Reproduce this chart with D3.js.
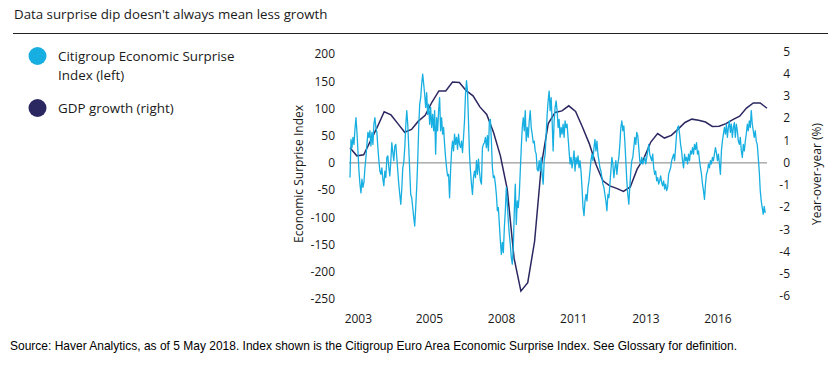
<!DOCTYPE html>
<html>
<head>
<meta charset="utf-8">
<script src="https://cdn.jsdelivr.net/npm/d3@7"></script>
<style>
  body { margin: 0; background: #fff; }
  svg { display: block; }
  text { font-family: "Open Sans", sans-serif; fill: #1a1a1a; }
</style>
</head>
<body>
<script>
// SVG dimensions
const width = 840, height = 376;

// Citigroup Economic Surprise Index (left axis), evenly spaced readings
const cesiStart = new Date(2002, 9, 1), cesiEnd = new Date(2018, 1, 5);
const cesiValues = [
  -27, 43, 28, 47, 34, 62, 83, 56, 22, -15,
  -39, -55, -30, -45, -36, -9, 10, 34, 56, 47,
  59, 31, 56, 34, 71, 83, 65, 56, 28, 4,
  -15, -21, -9, -30, -42, -15, -27, 10, 13, -9,
  -24, 4, 37, 19, 4, 31, 34, 10, -15, -39,
  -58, -76, -48, -9, 1, 28, 68, 96, 71, 28,
  -15, -58, -64, -82, -100, -116, -82, -45, 4, 65,
  108, 120, 145, 163, 145, 126, 102, 129, 89, 108,
  71, 102, 65, 89, 59, 96, 16, 83, 59, 96,
  120, 59, 83, 53, 65, 34, 10, -9, -24, -21,
  -64, -15, 22, 40, 22, 53, 34, 47, 25, 53,
  34, 28, 40, 19, 47, 77, 126, 151, 132, 77,
  16, -15, -39, -58, -27, -15, -27, 4, -21, 7,
  -15, -33, -39, 28, 34,
  37, 47, 28, 50, 22, 77, 80, 40, -9, -27,
  -24, -39, -58, -88, -82, -113, -143, -168, -146, -165,
  -119, -88, -45, -76, -107, -131, -150, -174, -186, -156,
  -88, -39, -113, -70, -82, -58, -15, 28, 65, 83,
  59, 96, 40, 65, 47, 77, 96, 65, 53, 37,
  40, 22, 16, -12, -15, 4, -15, 10, -21, -39,
  4, 16, 53, 89, 114, 132, 96, 120, 77, 22,
  77, 102, 114, 96, 65, 80, 47, 65, 53, 71,
  47, 77, 65, 71, 47, 22, -2, 10, -9, 4,
  22, -15, 10, -2, 13, -9, 4, -15, -45, -82,
  -97, -70, -58, -70, -45, -33, -15, 4, 16, 4,
  28, 43, 22, 40, 16, 4, -9, -15, -27, -39,
  -45, -58, -70, -88, -58, -64, -39, -15, 10, -2,
  -27, -9, 4, -21, -2, 10, 34, 65, 77, 59,
  68, 40, 4, -33, -58, -76, -45, -15, 4, 10,
  28, 47, 34, 56, 50, 28, 4, -2, 10, -2,
  4, 10, -2, 10, 22, 34, 16, 10, 4, 16,
  -9, -21, -15, -33, -27, -39, -33, -24, -36, -42,
  -33, -48, -39, -51, -45, -21, -15, -9, 4, 10,
  16, 4, 28, 53, 65, 68, 53, 34, 22, 4,
  -9, 16, 4, 10, -2, 16, 4, 22, 16, 28,
  16, 34, 25, 37, 16, 22, 4, -9, -21, -39,
  -51, -67, -39, -21, -15, -2, -9, 4, -2, 10,
  4, 16, 28, 19, 4, 16, -2, -21, 22, 40,
  53, 65, 53, 71, 47, 65, 77, 56, 71, 47,
  65, 74, 47, 71, 59, 40, 34, 47, 22, 10,
  34, 22, 40, 53, 71, 59, 77, 65, 96, 71,
  59, 47, 59, 40, 34, 10, -15, -51, -70, -82,
  -94, -80, -92
];

// Euro area GDP growth, year-over-year % (right axis), quarterly 2002Q4-2018Q1
const gdpStart = new Date(2002, 9, 1), gdpEnd = new Date(2018, 2, 1);
const gdpValues = [
  0.66, 0.30, 0.35, 0.97, 1.60, 2.28, 2.14, 1.75, 1.36, 1.49,
  1.86, 2.12, 2.72, 3.22, 3.22, 3.62, 3.60, 3.23, 3.00, 2.50,
  2.16, 1.35, 0.30, -1.20, -4.30, -5.78, -5.40, -3.55, -0.10, 1.75,
  2.25, 2.32, 2.55, 2.30, 1.60, 0.85, -0.10, -0.82, -1.05, -1.16,
  -1.30, -1.10, -0.30, 0.20, 0.92, 1.30, 1.10, 1.22, 1.50, 1.80,
  1.95, 1.90, 1.82, 1.62, 1.63, 1.75, 1.93, 2.08, 2.45, 2.68,
  2.68, 2.44
];

// Axis ticks
const leftTicks = [200, 150, 100, 50, 0, -50, -100, -150, -200, -250];
const rightTicks = [5, 4, 3, 2, 1, 0, -1, -2, -3, -4, -5, -6];
const xTickDates = [new Date(2003, 0, 15), new Date(2005, 8, 1), new Date(2008, 4, 1),
                    new Date(2011, 0, 1), new Date(2013, 8, 1), new Date(2016, 4, 1)];

const cyan = "#17afe1", navy = "#2b2760";

const svg = d3.select("body").append("svg")
    .attr("width", width)
    .attr("height", height);

// Scales
const x = d3.scaleTime().domain([new Date(2002, 9, 1), new Date(2018, 2, 1)]).range([350, 767]);
const yL = d3.scaleLinear().domain([-250, 200]).range([299, 54]);
const yR = d3.scaleLinear().domain([-6, 5]).range([296, 51.3]);

// Dates for the evenly spaced series
const spread = (a, b, n) => d3.range(n).map(i => new Date(+a + (b - a) * i / (n - 1)));
const cesi = spread(cesiStart, cesiEnd, cesiValues.length).map((d, i) => ({d, v: cesiValues[i]}));
const gdp = spread(gdpStart, gdpEnd, gdpValues.length).map((d, i) => ({d, v: gdpValues[i]}));

// Title and rule
svg.append("text").attr("x", 14).attr("y", 19)
    .style("font-size", "13.3px").text("Data surprise dip doesn't always mean less growth");
svg.append("line").attr("x1", 13).attr("x2", 828).attr("y1", 33.5).attr("y2", 33.5)
    .attr("stroke", "#222").attr("stroke-width", 1);

// Legend
const legend = [
  {c: cyan, lines: ["Citigroup Economic Surprise", "Index (left)"], y: 56},
  {c: navy, lines: ["GDP growth (right)"], y: 108}
];
legend.forEach(l => {
    svg.append("circle").attr("cx", 37.5).attr("cy", l.y).attr("r", 9).attr("fill", l.c);
    l.lines.forEach((t, i) => {
        svg.append("text").attr("x", 58).attr("y", l.y + 5 + i * 18.5)
            .style("font-size", "13.4px").text(t);
    });
});

// Zero line
svg.append("line")
    .attr("x1", 349).attr("x2", 767)
    .attr("y1", yL(0)).attr("y2", yL(0))
    .attr("stroke", "#808080").attr("stroke-width", 1);

// Axes (plain hyphen minus like the original)
const styleAxis = g => {
    g.select(".domain").remove();
    g.selectAll("text").style("font-size", "12px").attr("fill", "#1a1a1a")
        .style("font-family", "'Open Sans', sans-serif");
};
const plain = d => String(d);
svg.append("g").attr("transform", "translate(335,0)")
    .call(d3.axisLeft(yL).tickValues(leftTicks).tickFormat(plain).tickSize(0).tickPadding(0))
    .call(styleAxis);
svg.append("g").attr("transform", "translate(790,0)")
    .call(d3.axisLeft(yR).tickValues(rightTicks).tickFormat(plain).tickSize(0).tickPadding(0))
    .call(styleAxis);
svg.append("g").attr("transform", "translate(0,313)")
    .call(d3.axisBottom(x).tickValues(xTickDates).tickFormat(d3.timeFormat("%Y")).tickSize(0).tickPadding(1))
    .call(styleAxis);

// Axis titles
svg.append("text").attr("transform", "translate(303,174) rotate(-90)")
    .attr("text-anchor", "middle").style("font-size", "12px").text("Economic Surprise Index");
svg.append("text").attr("transform", "translate(821,174) rotate(-90)")
    .attr("text-anchor", "middle").style("font-size", "12px").text("Year-over-year (%)");

// Lines
svg.append("path").datum(gdp)
    .attr("fill", "none").attr("stroke", navy).attr("stroke-width", 1.5)
    .attr("d", d3.line().x(d => x(d.d)).y(d => yR(d.v)));
svg.append("path").datum(cesi)
    .attr("fill", "none").attr("stroke", cyan).attr("stroke-width", 1.3)
    .attr("stroke-linejoin", "round")
    .attr("d", d3.line().x(d => x(d.d)).y(d => yL(d.v)));

// Source note (condensed, as in the original)
svg.append("text").attr("x", 10).attr("y", 350)
    .attr("textLength", 727).attr("lengthAdjust", "spacingAndGlyphs")
    .style("font-family", "'Liberation Sans Narrow', 'Liberation Sans', sans-serif")
    .style("font-size", "13.5px").style("fill", "#000")
    .text("Source: Haver Analytics, as of 5 May 2018. Index shown is the Citigroup Euro Area Economic Surprise Index. See Glossary for definition.");
</script>
</body>
</html>
